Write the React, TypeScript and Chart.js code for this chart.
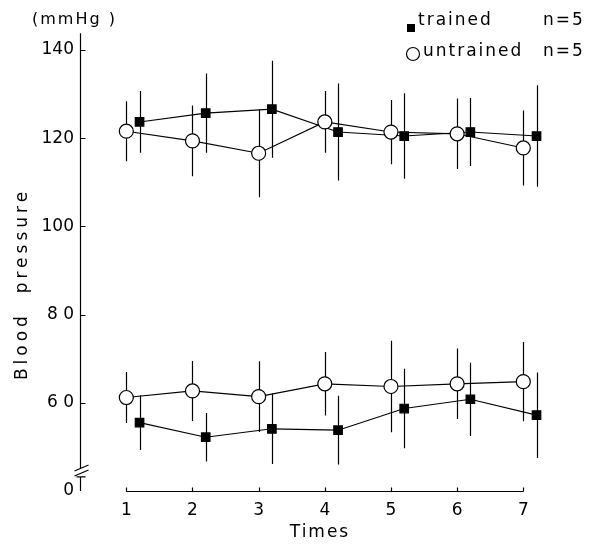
import { useEffect, useRef } from "react";
import { Chart, registerables } from "chart.js";

Chart.register(...registerables);

// ---- data ----
const times = [1, 2, 3, 4, 5, 6, 7];

const trainedSystolic = [123.7, 125.7, 126.6, 121.4, 120.5, 121.4, 120.5];
const trainedSystolicSD = [7, 9, 11, 11, 9.7, 7.7, 11.5];
const untrainedSystolic = [121.6, 119.4, 116.6, 123.7, 121.4, 121.0, 117.8];
const untrainedSystolicSD = [6.8, 8, 10, 7, 7.3, 8, 8.5];

const trainedDiastolic = [55.5, 52.2, 54.1, 53.8, 58.7, 60.8, 57.2];
const trainedDiastolicSD = [6.2, 5.5, 8, 7.8, 9, 8.3, 9.7];
const untrainedDiastolic = [61.2, 62.7, 61.4, 64.3, 63.7, 64.3, 64.8];
const untrainedDiastolicSD = [5.8, 6.8, 8, 7.2, 10.4, 8, 9];

const yTickValues = [40, 60, 80, 100, 120, 140];
const yTickLabels = ["0", "6 0", "8 0", "100", "120", "140"];
const xTickValues = [1, 2, 3, 4, 5, 6, 7];

const legendTrained = "trained";
const legendUntrained = "untrained";
const legendN = "n=5";
const yTitle = "Blood  pressure";
const xTitle = "Times";
const unitLabel = "(mmHg )";

const TRAINED_SHIFT = 0.2;
const UNTRAINED_SHIFT = 0;
const FONT = '"DejaVu Sans", sans-serif';

const pts = (vals: number[], shift: number) =>
  vals.map((v, i) => ({ x: times[i] + shift, y: v }));

const decorPlugin = {
  id: "decor",
  beforeDatasetsDraw(chart: any) {
    const { ctx, chartArea, scales } = chart;
    const x = scales.x;
    const y = scales.y;
    ctx.save();
    ctx.strokeStyle = "#000";
    ctx.lineWidth = 1.2;

    // error bars (mean ± SD)
    const groups: [number[], number[], number][] = [
      [trainedSystolic, trainedSystolicSD, TRAINED_SHIFT],
      [untrainedSystolic, untrainedSystolicSD, UNTRAINED_SHIFT],
      [trainedDiastolic, trainedDiastolicSD, TRAINED_SHIFT],
      [untrainedDiastolic, untrainedDiastolicSD, UNTRAINED_SHIFT],
    ];
    ctx.beginPath();
    groups.forEach(([m, sd, sh]) => {
      m.forEach((v, i) => {
        const xp = Math.round(x.getPixelForValue(times[i] + sh)) + 0.5;
        ctx.moveTo(xp, y.getPixelForValue(v + sd[i]));
        ctx.lineTo(xp, y.getPixelForValue(v - sd[i]));
      });
    });
    ctx.stroke();

    // y axis (broken)
    const ax = chartArea.left + 0.5;
    const breakTop = y.getPixelForValue(45.0);
    const breakBot = y.getPixelForValue(43.2);
    ctx.beginPath();
    ctx.moveTo(ax, y.getPixelForValue(143.8));
    ctx.lineTo(ax, breakTop);
    ctx.moveTo(ax, breakBot);
    ctx.lineTo(ax, y.getPixelForValue(40));
    ctx.moveTo(ax - 4, breakBot);
    ctx.lineTo(ax + 5, breakBot);
    yTickValues.forEach((v) => {
      if (v === 40) return;
      const yp = Math.round(y.getPixelForValue(v)) + 0.5;
      ctx.moveTo(ax, yp);
      ctx.lineTo(ax + 5, yp);
    });
    ctx.stroke();
    ctx.beginPath();
    [breakTop - 1, breakTop + 4].forEach((yy) => {
      ctx.moveTo(ax - 6, yy + 3);
      ctx.lineTo(ax + 8, yy - 3);
    });
    ctx.stroke();

    // x axis (detached, from 1 to 7)
    const xb = Math.round(y.getPixelForValue(40)) + 0.5;
    ctx.beginPath();
    ctx.moveTo(x.getPixelForValue(xTickValues[0]), xb);
    ctx.lineTo(x.getPixelForValue(xTickValues[xTickValues.length - 1]), xb);
    xTickValues.forEach((v) => {
      const xp = Math.round(x.getPixelForValue(v)) + 0.5;
      ctx.moveTo(xp, xb);
      ctx.lineTo(xp, xb - 4);
    });
    ctx.stroke();
    ctx.restore();
  },
  afterDraw(chart: any) {
    const { ctx } = chart;
    ctx.save();
    ctx.fillStyle = "#000";
    ctx.strokeStyle = "#000";
    ctx.textBaseline = "middle";
    ctx.textAlign = "left";
    ctx.font = `16px ${FONT}`;
    (ctx as any).letterSpacing = "2px";

    ctx.fillText(unitLabel, 32, 20);

    // legend
    ctx.font = `17px ${FONT}`;
    ctx.fillRect(407, 24, 8, 8);
    ctx.fillText(legendTrained, 418, 21);
    ctx.fillText(legendN, 543, 21);
    ctx.beginPath();
    ctx.arc(413, 54, 6.5, 0, Math.PI * 2);
    ctx.fillStyle = "#fff";
    ctx.fill();
    ctx.lineWidth = 1.2;
    ctx.stroke();
    ctx.fillStyle = "#000";
    ctx.fillText(legendUntrained, 423, 52);
    ctx.fillText(legendN, 543, 52);

    // x title
    ctx.font = `17px ${FONT}`;
    (ctx as any).letterSpacing = "2px";
    ctx.textAlign = "center";
    ctx.fillText(xTitle, 320, 533);

    // y title
    ctx.translate(23, 284);
    ctx.rotate(-Math.PI / 2);
    (ctx as any).letterSpacing = "4px";
    ctx.fillText(yTitle, 0, 0);
    ctx.restore();
  },
};

export default function App() {
  const ref = useRef<HTMLCanvasElement | null>(null);

  useEffect(() => {
    if (!ref.current) return;
    const common = {
      borderColor: "#000",
      borderWidth: 1.1,
      pointBorderColor: "#000",
      pointBorderWidth: 1.2,
      tension: 0,
      fill: false,
    };
    const chart = new Chart(ref.current, {
      type: "line",
      data: {
        datasets: [
          {
            ...common,
            label: legendUntrained + " systolic",
            data: pts(untrainedSystolic, UNTRAINED_SHIFT),
            pointStyle: "circle",
            pointRadius: 7,
            pointBackgroundColor: "#fff",
          },
          {
            ...common,
            label: legendUntrained + " diastolic",
            data: pts(untrainedDiastolic, UNTRAINED_SHIFT),
            pointStyle: "circle",
            pointRadius: 7,
            pointBackgroundColor: "#fff",
          },
          {
            ...common,
            label: legendTrained + " systolic",
            data: pts(trainedSystolic, TRAINED_SHIFT),
            pointStyle: "rect",
            pointRadius: 6,
            pointBackgroundColor: "#000",
          },
          {
            ...common,
            label: legendTrained + " diastolic",
            data: pts(trainedDiastolic, TRAINED_SHIFT),
            pointStyle: "rect",
            pointRadius: 6,
            pointBackgroundColor: "#000",
          },
        ],
      },
      options: {
        animation: false,
        responsive: false,
        maintainAspectRatio: false,
        layout: { padding: { top: 28, right: 31, left: 0, bottom: 0 } },
        plugins: {
          legend: { display: false },
          tooltip: { enabled: false },
        },
        scales: {
          x: {
            type: "linear",
            min: 0.3,
            max: 7.6,
            grid: { display: false, drawTicks: false },
            border: { display: false },
            afterBuildTicks: (s: any) => {
              s.ticks = xTickValues.map((v) => ({ value: v }));
            },
            afterFit: (s: any) => {
              s.height = 56;
            },
            ticks: {
              color: "#000",
              padding: 9,
              font: { family: FONT, size: 17 },
              callback: (v: any) => String(v),
            },
          },
          y: {
            type: "linear",
            min: 40,
            max: 145,
            grid: { display: false, drawTicks: false },
            border: { display: false },
            afterBuildTicks: (s: any) => {
              s.ticks = yTickValues.map((v) => ({ value: v }));
            },
            afterFit: (s: any) => {
              s.width = 80;
            },
            ticks: {
              color: "#000",
              padding: 6,
              font: { family: FONT, size: 17 },
              callback: (v: any) => {
                const i = yTickValues.indexOf(Number(v));
                return i >= 0 ? yTickLabels[i] : "";
              },
            },
          },
        },
      },
      plugins: [decorPlugin],
    });
    return () => chart.destroy();
  }, []);

  return (
    <div
      style={{
        position: "fixed",
        left: 0,
        top: 0,
        width: 594,
        height: 547,
        background: "#fff",
      }}
    >
      <canvas ref={ref} width={594} height={547} style={{ display: "block" }} />
    </div>
  );
}
